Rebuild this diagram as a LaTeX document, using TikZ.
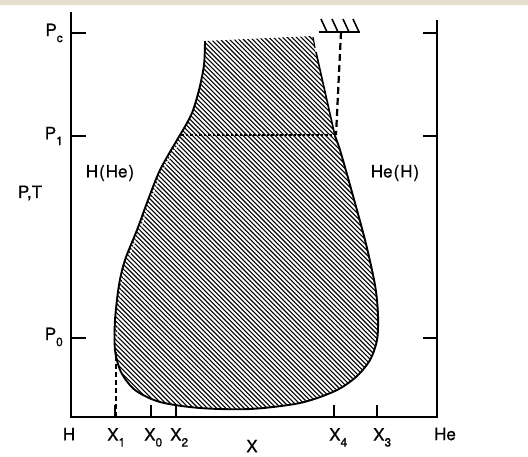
\documentclass[tikz,border=0pt]{standalone}
\usepackage{fontspec}
\setmainfont{TeX Gyre Heros}[FakeBold=0.6]
\newcommand{\sbs}[1]{\raisebox{-0.35em}{\fontsize{12}{12}\selectfont #1}}
\begin{document}
\begin{tikzpicture}[x=1pt,y=-1pt,
  axisline/.style={line width=1.1pt},
  edgeline/.style={line width=1.9pt,line join=round},
  hatchline/.style={line width=1.1pt},
  lbl/.style={font=\fontsize{17}{19}\selectfont,inner sep=0pt},
  tickline/.style={line width=1.1pt}]
\useasboundingbox (0,0) rectangle (528,456);
\fill[color={rgb,255:red,227;green,223;blue,204}] (0,0) rectangle (528,4.5);
% hatched region
\begin{scope}
\clip plot[smooth,tension=0.5] coordinates {(205,41) (204,65) (199,90) (192,113) (183,130) (177,140) (160,170) (148,200) (137,230) (125,260) (119,285) (115,320) (115,350) (121,372) (135,390) (160,402) (200,408) (250,409) (300,403) (335,391) (356,377) (370,360) (377,340) (378,315) (375,285) (365,240) (350,185) (340,150) (335,136)} -- (315,50) -- (313,36) -- cycle;
\foreach \i in {-440,-435.4,...,400} {\draw[hatchline] (\i,0) -- (\i+470,470);}
\end{scope}
% outline
\draw[edgeline] plot[smooth,tension=0.5] coordinates {(205,41) (204,65) (199,90) (192,113) (183,130) (177,140) (160,170) (148,200) (137,230) (125,260) (119,285) (115,320) (115,350) (121,372) (135,390) (160,402) (200,408) (250,409) (300,403) (335,391) (356,377) (370,360) (377,340) (378,315) (375,285) (365,240) (350,185) (340,150) (335,136)};
\draw[line width=1.6pt] (335,136) -- (316,52);
\draw[line width=1.2pt] (313,37) -- (315,48);
% dotted P1 line
\draw[line width=1.7pt,dash pattern=on 2.5pt off 2pt] (181,135) -- (335,135);
% wall symbol and dashed support
\coordinate (wl) at (319,32);
\coordinate (wr) at (360,32);
\coordinate (wm) at (341,32);
\coordinate (wb) at (336,135);
\draw[line width=2.2pt,dash pattern=on 7pt off 4pt] (wm) -- (wb);
\draw[line width=1.7pt] (wl) -- (wr);
\foreach \a in {321,332,343,353} {\draw[line width=1.6pt] (\a,19) -- (\a+6,32);}
% dashed X1 line
\draw[line width=1.9pt,dash pattern=on 5pt off 3pt] (116,417) -- (116,352);
\draw[white,line width=0.7pt,dash pattern=on 2pt off 2pt] plot[smooth,tension=0.5] coordinates {(181,140) (163,170) (151,200) (140,230) (128,260) (122,285) (118,320) (118,345)};
% axes
\draw[axisline] (71,12) -- (71,417) -- (437,417) -- (437,20);
\foreach \y in {33,136,338} {\draw[tickline] (71,\y) -- (86,\y); \draw[tickline] (423,\y) -- (437,\y);}
\foreach \x in {115,151,176,334,377} {\draw[tickline] (\x,417) -- (\x,405);}
% labels
\node[lbl,anchor=east] (pc) at (63,33) {P\sbs{c}};
\node[lbl,anchor=east] (p1) at (63,136) {P\sbs{1}};
\node[lbl,anchor=east] (p0) at (63,337) {P\sbs{0}};
\node[lbl] (pt) at (30,193) {P,T};
\node[lbl] (hhe) at (110,173) {H\kern1pt(\kern1pt He\kern1pt)};
\node[lbl] (heh) at (395,173) {He\kern1pt(\kern1pt H\kern1pt)};
\node[lbl] (h) at (69,434) {H};
\node[lbl] (he) at (445,434) {He};
\node[lbl] (xx) at (252,446) {X};
\node[lbl,anchor=north west] (x1) at (107,428) {X\sbs{1}};
\node[lbl,anchor=north west] (x0) at (144,428) {X\sbs{0}};
\node[lbl,anchor=north west] (x2) at (170,428) {X\sbs{2}};
\node[lbl,anchor=north west] (x4) at (329,428) {X\sbs{4}};
\node[lbl,anchor=north west] (x3) at (373,428) {X\sbs{3}};
\end{tikzpicture}
\end{document}
